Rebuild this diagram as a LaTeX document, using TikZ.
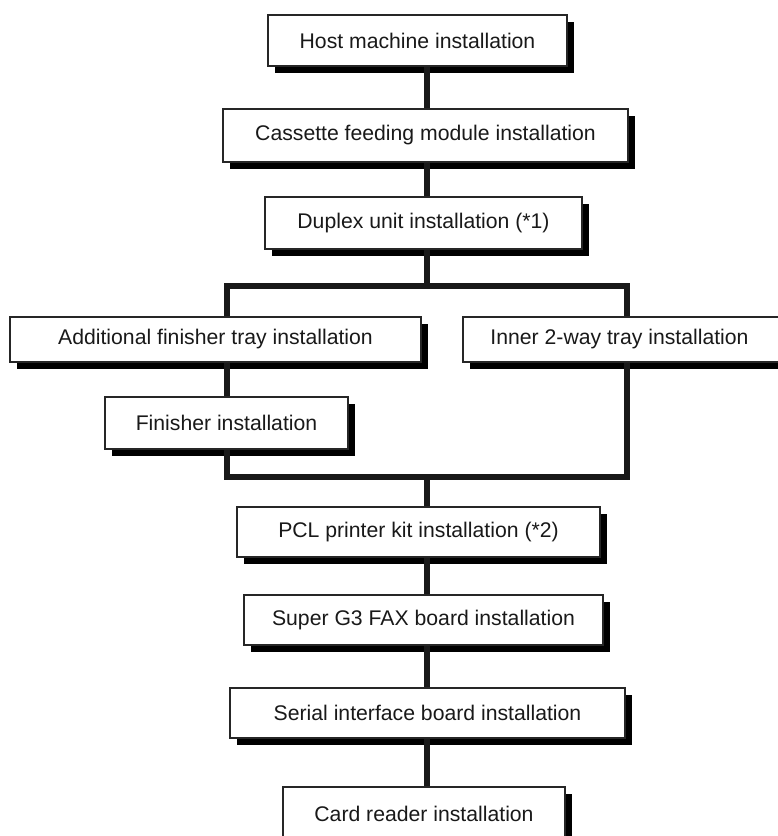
\documentclass[tikz,border=0pt]{standalone}
\usepackage{fontspec}
\setmainfont{Liberation Sans}
\usetikzlibrary{shadows}
\begin{document}
\begin{tikzpicture}[x=0.75pt,y=-0.75pt,
  wh/.style 2 args={minimum width=#1*0.75pt,minimum height=#2*0.75pt},
  stepbox/.style={draw=black!85, line width=0.9pt, fill=white, inner sep=0pt,
    font=\fontsize{15.9}{18}\selectfont, text=black!90,
    drop shadow={shadow xshift=5.6pt, shadow yshift=-5.2pt, opacity=1, fill=black}},
  link/.style={line width=3.9pt, draw=black!90, line join=miter}]
\useasboundingbox (0,0) rectangle (778,836);
\clip (0,0) rectangle (778,836);
\fill[white] (0,0) rectangle (778,836);

\coordinate (spine) at (427,0);
\coordinate (topL) at (227,286);
\coordinate (topR) at (627,286);
\coordinate (botL) at (227,477);
\coordinate (botR) at (627,477);

\node[stepbox, wh={299}{51}] (host) at (417.5,40.5) {Host machine installation};
\node[stepbox, wh={405}{53}] (cassette) at (425.5,135.5) {Cassette feeding module installation};
\node[stepbox, wh={317}{52}] (duplex) at (423.5,223) {Duplex unit installation (*1)};
\node[stepbox, wh={411}{45}] (addfin) at (215.5,339.5) {Additional finisher tray installation};
\node[stepbox, wh={330}{45}] (inner) at (628,339.5) {\hspace*{-12.75pt}Inner 2-way tray installation};
\node[stepbox, wh={243}{52}] (finisher) at (226.5,423) {Finisher installation};
\node[stepbox, wh={363}{50}] (pcl) at (418.5,532) {PCL printer kit installation (*2)};
\node[stepbox, wh={359}{50}] (g3) at (423.5,620) {Super G3 FAX board installation};
\node[stepbox, wh={395}{50}] (serial) at (427.5,713) {Serial interface board installation};
\node[stepbox, wh={282}{54}] (card) at (424,814) {Card reader installation};

\draw[link] (host.south -| spine) -- (cassette.north -| spine);
\draw[link] (cassette.south -| spine) -- (duplex.north -| spine);
\draw[link] (duplex.south -| spine) -- (spine |- topL);
\draw[link] (addfin.north -| topL) -- (topL) -- (topR) -- (inner.north -| topR);
\draw[link] (addfin.south -| topL) -- (finisher.north -| topL);
\draw[link] (finisher.south -| botL) -- (botL) -- (botR) -- (inner.south -| botR);
\draw[link] (spine |- botL) -- (pcl.north -| spine);
\draw[link] (pcl.south -| spine) -- (g3.north -| spine);
\draw[link] (g3.south -| spine) -- (serial.north -| spine);
\draw[link] (serial.south -| spine) -- (card.north -| spine);
\end{tikzpicture}
\end{document}
